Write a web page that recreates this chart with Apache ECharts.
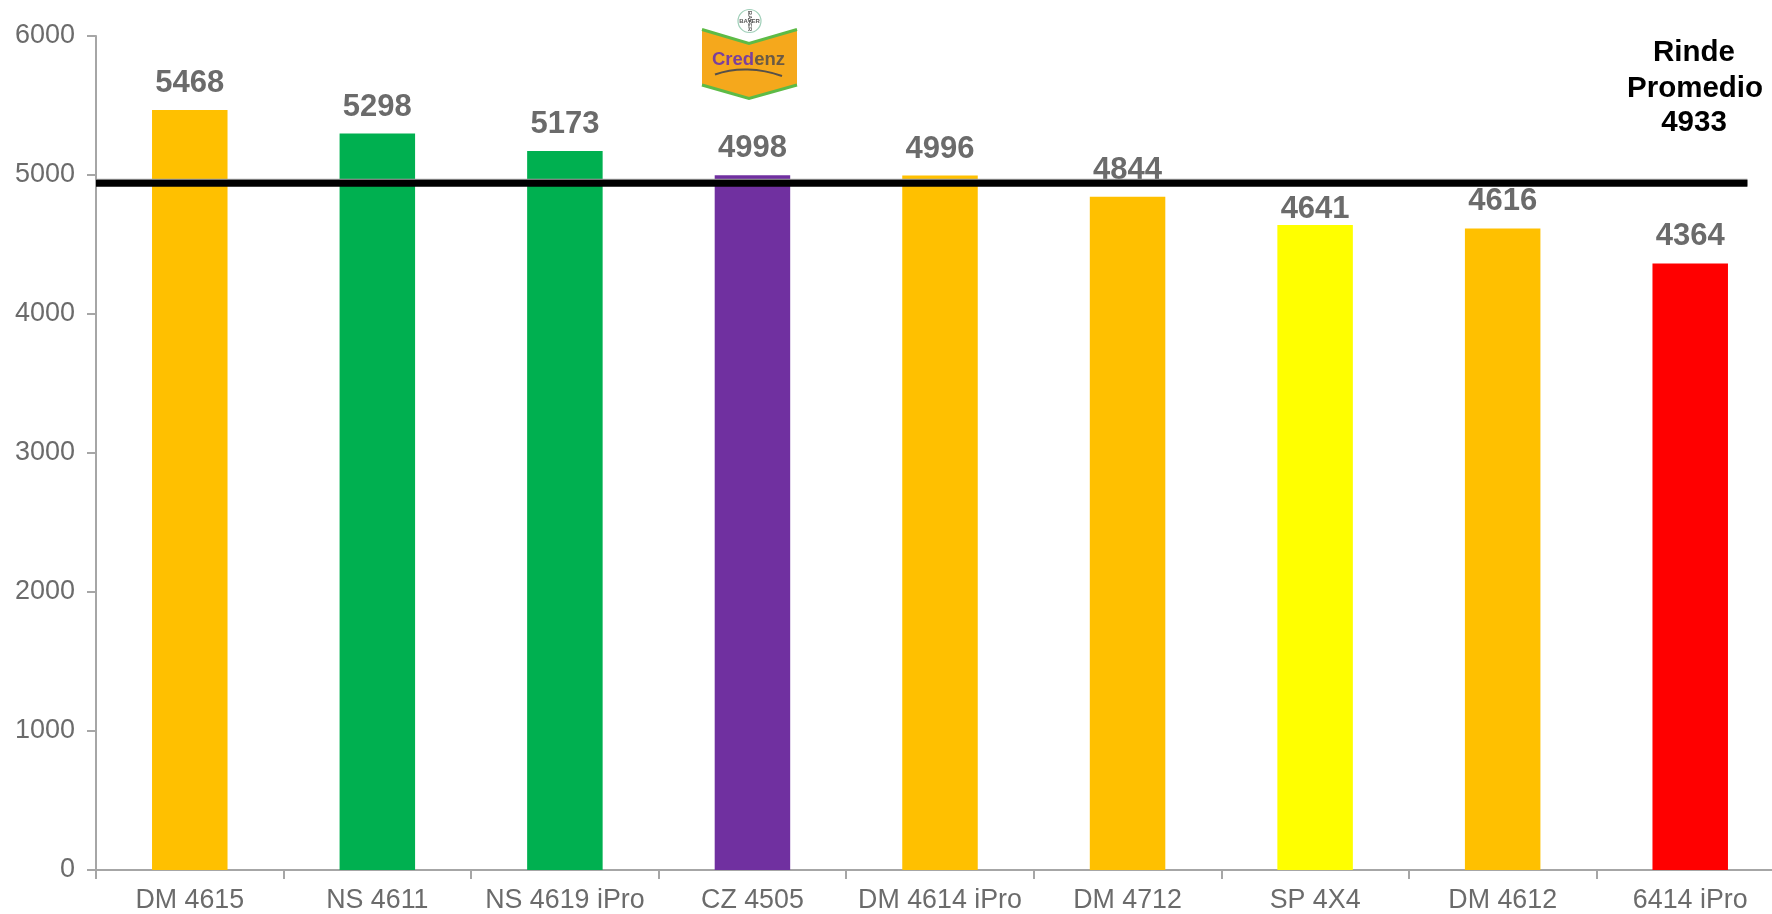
<!DOCTYPE html>
<html>
<head>
<meta charset="utf-8">
<style>html,body{margin:0;padding:0;background:#fff}#c{width:1772px;height:914px}</style>
<script src="https://cdn.jsdelivr.net/npm/echarts@6/dist/echarts.min.js"></script>
</head>
<body>
<div id="c"></div>
<script>
const categories = ['DM 4615','NS 4611','NS 4619 iPro','CZ 4505','DM 4614 iPro','DM 4712','SP 4X4','DM 4612','6414 iPro'];
const values = [5468,5298,5173,4998,4996,4844,4641,4616,4364];
const barColors = ['#FFC000','#00B050','#00B050','#7030A0','#FFC000','#FFC000','#FFFF00','#FFC000','#FF0000'];
const yTicks = [0,1000,2000,3000,4000,5000,6000];
const averageLabel = ['Rinde','Promedio','4933'];
const averageLineValue = 4940;
const averageLineSpan = [0, 8.805];

const font = '"Liberation Sans", Arial, sans-serif';
const grey = '#6b6b6b';
const axisGrey = '#a6a6a6';

const chart = echarts.init(document.getElementById('c'), null, {renderer:'canvas'});
chart.setOption({
  animation:false,
  backgroundColor:'#fff',
  grid:{left:96, top:36, width:1688, height:834, containLabel:false, outerBoundsMode:'none'},
  xAxis:[
    {type:'category', data:categories, boundaryGap:true,
     axisLine:{lineStyle:{color:axisGrey,width:2}},
     axisTick:{show:true,length:9,alignWithLabel:false,lineStyle:{color:axisGrey,width:2}},
     axisLabel:{color:grey,fontFamily:font,fontSize:26.8,margin:17,interval:0,hideOverlap:false},
     splitLine:{show:false}},
    {type:'value', min:0, max:categories.length, show:false, splitLine:{show:false}}
  ],
  yAxis:{type:'value', min:yTicks[0], max:yTicks[yTicks.length-1], interval:1000,
     axisLine:{show:true,lineStyle:{color:axisGrey,width:2}},
     axisTick:{show:true,length:9,lineStyle:{color:axisGrey,width:2}},
     axisLabel:{color:grey,fontFamily:font,fontSize:27,margin:21,padding:[4,0,0,0],formatter:v=>String(v)},
     splitLine:{show:false}},
  series:[
    {type:'bar', xAxisIndex:0, barWidth:75.5, z:2,
     data:values.map((v,i)=>({value:v,itemStyle:{color:barColors[i]},
       label:categories[i]==='SP 4X4'?{offset:[0,11]}:undefined})),
     label:{show:true,position:'top',distance:11,color:grey,fontFamily:font,fontSize:31,fontWeight:'bold'}},
    {type:'line', xAxisIndex:1, z:3, symbol:'none', silent:true, clip:false,
     data:averageLineSpan.map(x=>[x,averageLineValue]),
     lineStyle:{color:'#000',width:7,cap:'butt',shadowColor:'#a6a6a6',shadowBlur:0,shadowOffsetY:-1}}
  ],
  graphic:[
    {type:'text', z:10, style:{x:1694,y:52.5,text:averageLabel[0],fill:'#000',font:'bold 29.5px '+font,align:'center',verticalAlign:'middle'}},
    {type:'text', z:10, style:{x:1695,y:89,text:averageLabel[1],fill:'#000',font:'bold 29.5px '+font,align:'center',verticalAlign:'middle'}},
    {type:'text', z:10, style:{x:1694,y:122.5,text:averageLabel[2],fill:'#000',font:'bold 29.5px '+font,align:'center',verticalAlign:'middle'}},
    // Credenz logo
    {type:'polygon', z:10, shape:{points:[[702,29],[749,43],[797,29],[797,85],[749,99],[702,85]]},
      style:{fill:'#F5A81C',stroke:null}},
    {type:'polyline', z:11, shape:{points:[[702,29.5],[749,43.5],[797,29.5]]},style:{stroke:'#5DBB46',lineWidth:3,fill:null}},
    {type:'polyline', z:11, shape:{points:[[702,85],[749,98.5],[797,85]]},style:{stroke:'#5DBB46',lineWidth:3,fill:null}},
    {type:'text', z:12, style:{x:712,y:60,text:'{a|Cred}{b|enz}',verticalAlign:'middle',align:'left',
       rich:{a:{fill:'#7A3F9D',font:'bold 18.5px '+font},b:{fill:'#6a5a45',font:'bold 18.5px '+font}}}},
    {type:'bezierCurve', z:12, shape:{x1:715,y1:74.5,cpx1:735,cpy1:67,cpx2:760,cpy2:68,x2:782,y2:76,percent:1},
       style:{stroke:'#55504a',lineWidth:2,fill:null}},
    {type:'circle', z:10, shape:{cx:749.5,cy:21,r:11.5},style:{fill:'#fff',stroke:'#9fcfb8',lineWidth:1.2}},
    {type:'text', z:12, style:{x:749.5,y:21,text:'BAYER',fill:'#555',font:'bold 6px '+font,align:'center',verticalAlign:'middle'}},
    {type:'text', z:12, rotation:-Math.PI/2, x:749.5, y:21, style:{x:0,y:0,text:'BAYER',fill:'#555',font:'bold 6px '+font,align:'center',verticalAlign:'middle'}}
  ]
});
</script>
</body>
</html>
